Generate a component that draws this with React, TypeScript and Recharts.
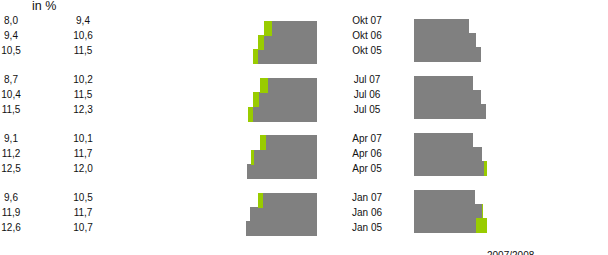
import { Bar, BarChart, XAxis, YAxis } from 'recharts';

const months = ['Okt 07', 'Okt 06', 'Okt 05', 'Jul 07', 'Jul 06', 'Jul 05', 'Apr 07', 'Apr 06', 'Apr 05', 'Jan 07', 'Jan 06', 'Jan 05'];
const leftGray = [8.0, 9.4, 10.5, 8.7, 10.4, 11.5, 9.1, 11.2, 12.5, 9.6, 11.9, 12.6];
const leftGreen = [9.4, 10.6, 11.5, 10.2, 11.5, 12.3, 10.1, 11.7, 12.0, 10.5, 11.7, 10.7];
const rightGray = [9.8, 11.1, 12.0, 10.5, 12.0, 12.9, 10.5, 12.1, 12.5, 10.9, 12.1, 11.1];
const rightGreen = [9.3, 10.6, 11.4, 10.0, 11.5, 12.4, 10.0, 11.8, 13.0, 10.4, 12.3, 13.0];

const GRAY = '#808080';
const GREEN = '#99cc00';
const FONT = '"Liberation Sans", Arial, sans-serif';

type Row = { id: string; label?: string; a?: string; b?: string; lg?: number; ld?: number; rg?: number; rd?: number; z: number };

const fmt = (v: number) => v.toFixed(1).replace('.', ',');

// 4 groups of 3 quarters, an empty row between groups
const rows: Row[] = [];
months.forEach((m, k) => {
  if (k > 0 && k % 3 === 0) rows.push({ id: `gap${k}`, z: 0 });
  rows.push({
    id: m, label: m, a: fmt(leftGray[k]), b: fmt(leftGreen[k]),
    lg: leftGray[k], ld: Math.max(0, leftGreen[k] - leftGray[k]),
    rg: rightGray[k], rd: Math.max(0, rightGreen[k] - rightGray[k]),
    z: 0,
  });
});
const byId: Record<string, Row> = Object.fromEntries(rows.map((r) => [r.id, r]));

// recharts rounds the bar thickness down, so grow each bar a little to close the seams
function Block({ x, y, width, height, fill }: any) {
  if (!width || !height) return <g />;
  const left = width < 0 ? x + width : x;
  return <rect x={left} y={y - 0.3} width={Math.abs(width)} height={Math.abs(height) + 0.8} fill={fill} shapeRendering="crispEdges" />;
}

function RowTick({ y, payload }: any) {
  const r = byId[payload?.value];
  if (!r || !r.label) return <g />;
  const ty = y + 3.5;
  return (
    <g fontFamily={FONT} fontSize={10} fill="#111">
      <text x={11} y={ty} textAnchor="middle">{r.a}</text>
      <text x={83} y={ty} textAnchor="middle">{r.b}</text>
      <text x={367} y={ty} textAnchor="middle">{r.label}</text>
    </g>
  );
}

export default function App() {
  return (
    <div style={{ position: 'absolute', left: 0, top: 0, width: 608, height: 255, overflow: 'hidden', background: '#fff' }}>
      <div style={{ position: 'absolute', left: 0, top: 0 }}>
        <BarChart layout="vertical" width={320} height={255} data={rows} barCategoryGap={0}
          margin={{ top: 21, right: 3, bottom: 19, left: 238.6 }}>
          <XAxis type="number" domain={[0, 14]} reversed hide />
          <YAxis type="category" dataKey="id" hide />
          <Bar dataKey="lg" stackId="l" fill={GRAY} shape={<Block />} isAnimationActive={false} />
          <Bar dataKey="ld" stackId="l" fill={GREEN} shape={<Block />} isAnimationActive={false} />
        </BarChart>
      </div>
      <div style={{ position: 'absolute', left: 320, top: 0 }}>
        <BarChart layout="vertical" width={288} height={255} data={rows} barCategoryGap={0}
          margin={{ top: 19, right: 115.6, bottom: 22, left: 94 }}>
          <XAxis type="number" domain={[0, 14]} hide />
          <YAxis type="category" dataKey="id" hide />
          <Bar dataKey="rg" stackId="r" fill={GRAY} shape={<Block />} isAnimationActive={false} />
          <Bar dataKey="rd" stackId="r" fill={GREEN} shape={<Block />} isAnimationActive={false} />
        </BarChart>
      </div>
      <div style={{ position: 'absolute', left: 0, top: 0 }}>
        <BarChart layout="vertical" width={608} height={255} data={rows} barCategoryGap={0}
          margin={{ top: 13.1, right: 0, bottom: 20.4, left: 0 }}>
          <XAxis type="number" domain={[0, 1]} hide />
          <YAxis type="category" dataKey="id" width={2} axisLine={false} tickLine={false} interval={0}
            tick={(p: any) => <RowTick {...p} />} />
          <Bar dataKey="z" fill="none" isAnimationActive={false} />
        </BarChart>
      </div>
      <svg width={608} height={255} style={{ position: 'absolute', left: 0, top: 0, pointerEvents: 'none' }}>
        <text x={32} y={10} fontFamily={FONT} fontSize={12.5} fill="#111">in %</text>
        <text x={487} y={258.5} fontFamily={FONT} fontSize={10} fill="#111">2007/2008</text>
      </svg>
    </div>
  );
}
